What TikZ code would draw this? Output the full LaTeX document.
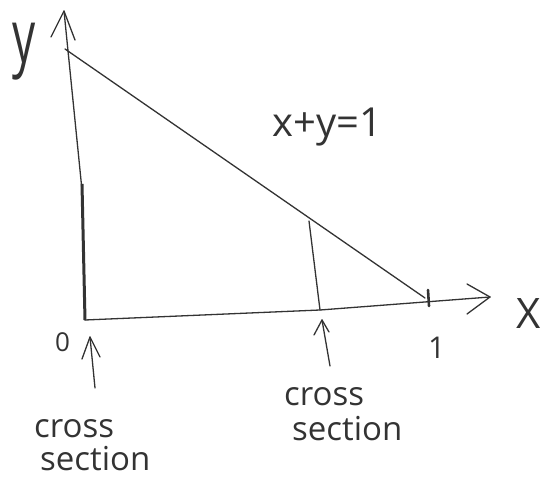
\documentclass[tikz,border=0pt]{standalone}
\usepackage{fontspec}
\setmainfont{Open Sans}
\usetikzlibrary{arrows.meta}
\definecolor{ink}{HTML}{333333}
\tikzset{
  pen/.style={draw=ink, line width=1.3pt, line cap=round, line join=round},
  hand/.style={text=ink, inner sep=0pt, anchor=base west},
  lbl/.style={hand, font=\fontsize{33}{36}\selectfont},
}
\begin{document}
\begin{tikzpicture}[x=1pt, y=-1pt]
\useasboundingbox (0,0) rectangle (551,478);
% key points
\coordinate (O) at (85,320);
\coordinate (ytip) at (64,11);
\coordinate (ybend) at (82,190);
\coordinate (xmid) at (320,310);
\coordinate (xtip) at (490,297);
\coordinate (top) at (65,49);
\coordinate (one) at (425,298);
\coordinate (cstop) at (309,221);
\coordinate (csbot) at (320,310);
\coordinate (leftcs) at (82,184);
% axes
\draw[pen] (O) -- (ybend) -- (ytip);
\draw[pen] (ytip) ++(-13,26) -- (ytip) -- ++(11,29);
\draw[pen] (O) -- (xmid) -- (xtip);
\draw[pen] (xtip) ++(-23,-13) -- (xtip) -- ++(-23,17);
% hypotenuse
\draw[pen] (top) -- (one);
% tick at 1
\draw[draw=ink, line width=2.6pt, line cap=round] (428,290) -- (429,306);
% cross sections
\draw[draw=ink, line width=3pt] (leftcs) -- (O);
\draw[pen] (cstop) -- (csbot);
% labels
\node[hand, font=\fontsize{46}{48}\selectfont] (ylab) at (12,63) {\scalebox{1}[1.6]{y}};
\node[hand, font=\fontsize{42}{44}\selectfont] (xlab) at (516,328) {X};
\node[hand, font=\fontsize{40}{42}\selectfont] (eq) at (272,137) {x+y=1};
\node[hand, font=\fontsize{26}{28}\selectfont] (zero) at (55,351) {0};
\node[hand, font=\fontsize{30}{32}\selectfont] (onelab) at (428,358) {1};
\node[lbl] (csleftA) at (34,437) {cross};
\node[lbl] (csleftB) at (40,470) {section};
\node[lbl] (csmidA) at (284,405) {cross};
\node[lbl] (csmidB) at (292,440) {section};
% arrows to cross sections
\coordinate (a1) at (95,388);
\coordinate (a1t) at (90,337);
\coordinate (a2) at (330,366);
\coordinate (a2t) at (322,320);
\draw[pen] (a1) -- (a1t);
\draw[pen] (a1t) ++(-8,22) -- (a1t) -- ++(10,20);
\draw[pen] (a2) -- (a2t);
\draw[pen] (a2t) ++(-8,15) -- (a2t) -- ++(7,12);
\end{tikzpicture}
\end{document}
